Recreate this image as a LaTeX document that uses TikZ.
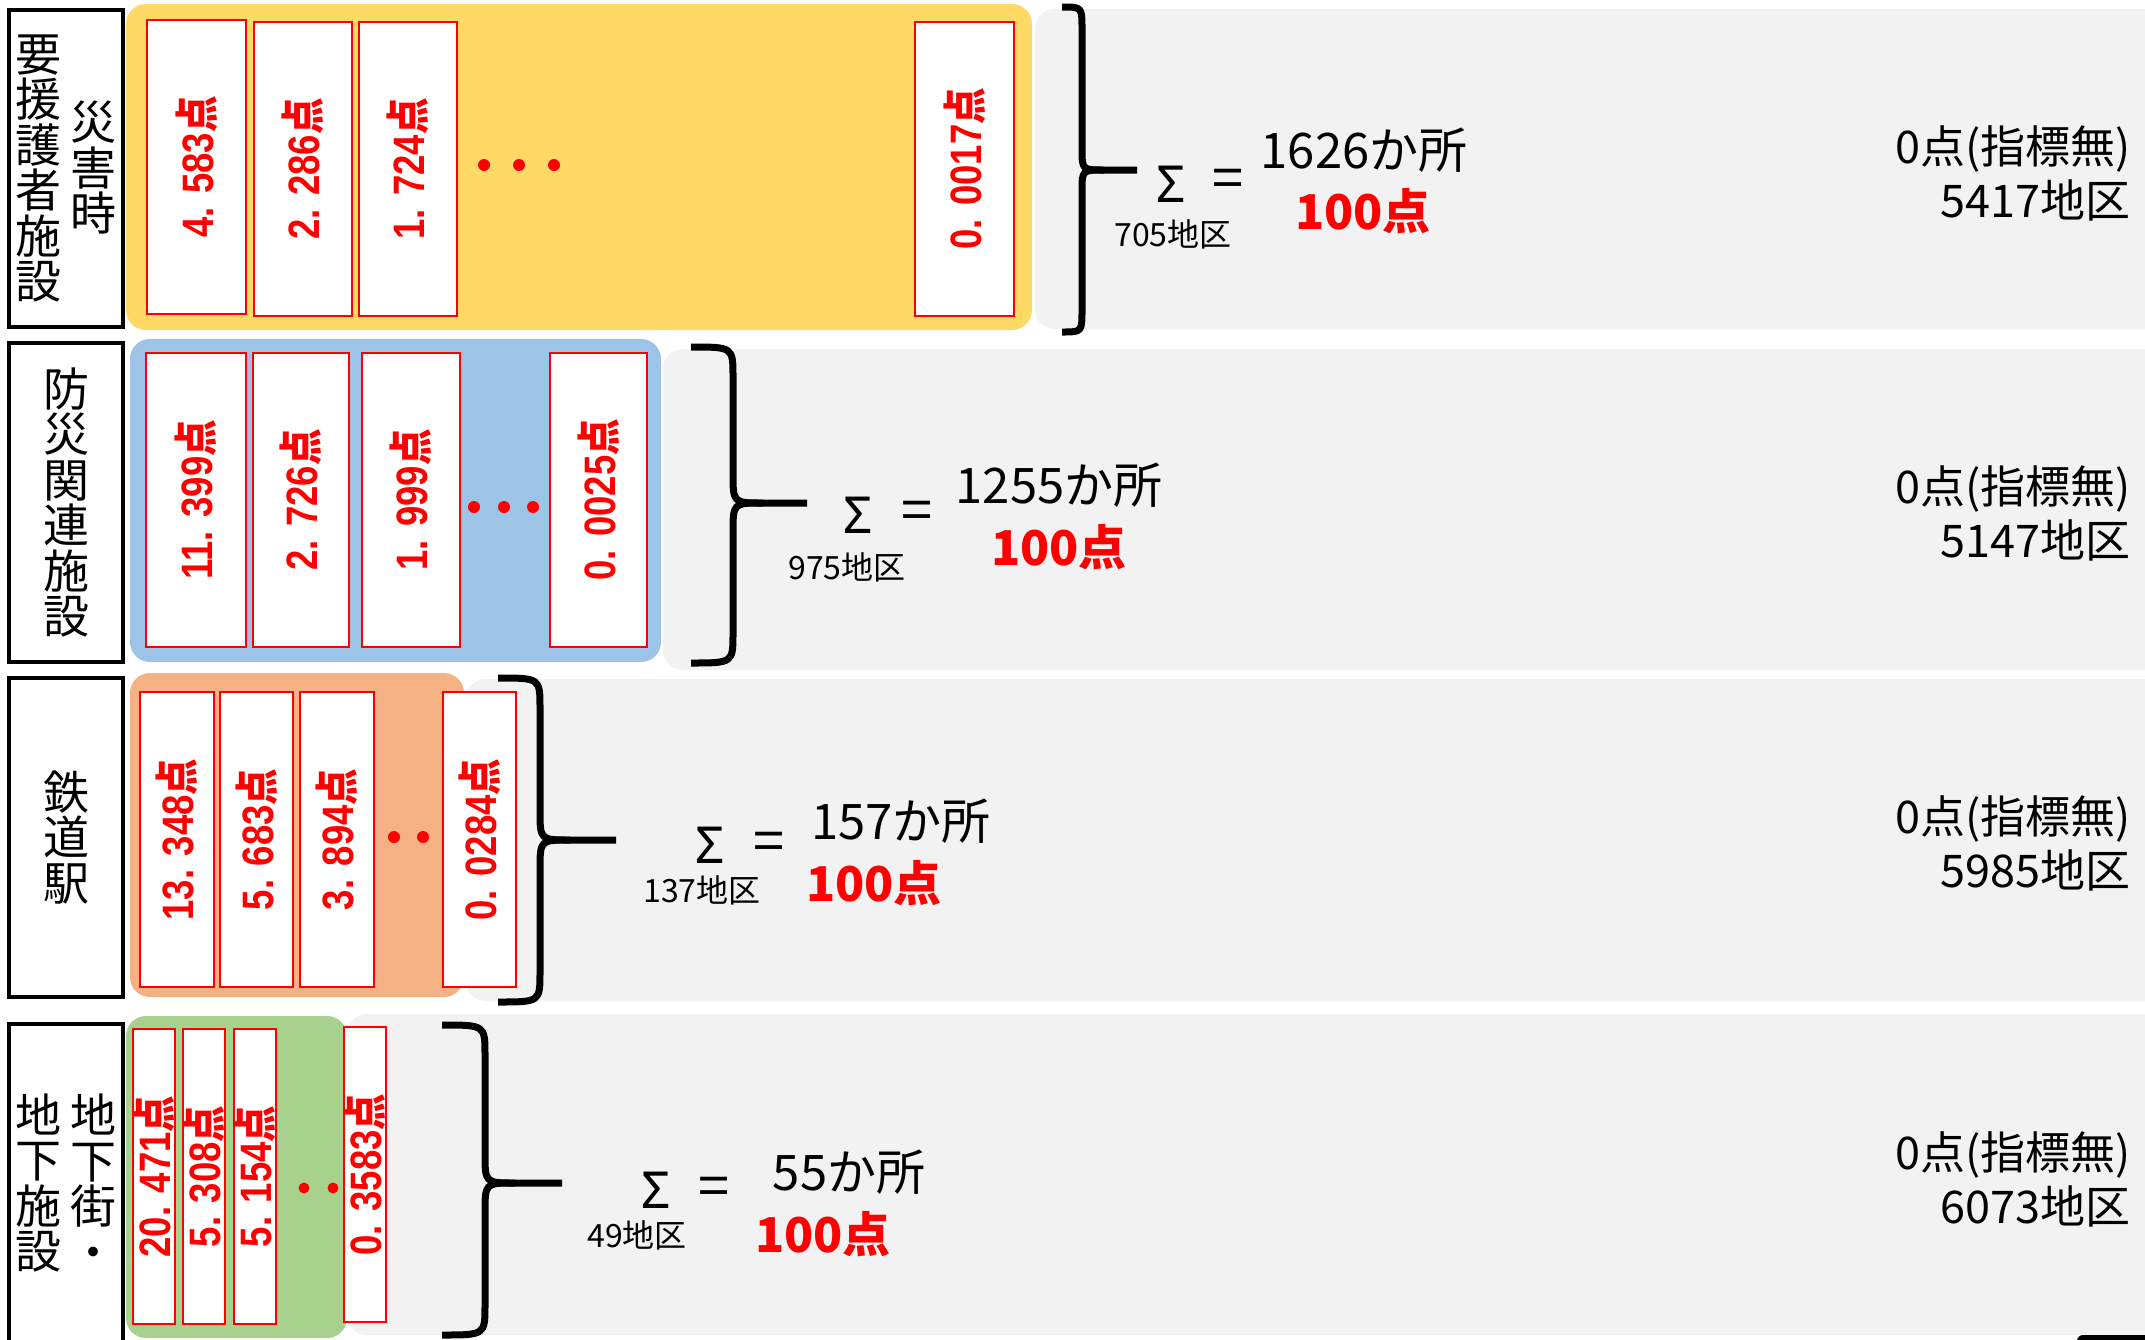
\documentclass[tikz,border=0pt]{standalone}
\usepackage{fontspec}
\usepackage{graphicx}
\newfontfamily\jp{Noto Sans CJK JP}
\newfontfamily\lsans{Liberation Sans}
\newfontfamily\nsans{Noto Sans}
\definecolor{cyel}{HTML}{FFD966}
\definecolor{cblu}{HTML}{9DC3E6}
\definecolor{cora}{HTML}{F4B183}
\definecolor{cgrn}{HTML}{A9D18E}
\definecolor{cgry}{HTML}{F2F2F2}
\definecolor{cred}{HTML}{FF0000}
\newcommand\fs[1]{\fontsize{#1}{#1}\selectfont}
\tikzset{
 boxbase/.style={anchor=north west, inner sep=0pt, outer sep=0pt},
 panel/.style={boxbase, rounded corners=20pt, draw=none},
 labelbox/.style={boxbase, draw=black, line width=4.5pt, fill=white},
 valbox/.style={boxbase, draw=cred, line width=2.5pt, fill=white},
 valtxt/.style={rotate=90, text=cred, inner sep=0pt},
 lbltxt/.style={font=\jp\fontsize{46}{45.5}\selectfont, align=center, inner sep=0pt},
 sig/.style={font=\nsans\fs{51}, inner sep=0pt},
 eqs/.style={font=\jp\fs{56}, inner sep=0pt},
 cnt/.style={font=\jp\fs{49}, inner sep=0pt},
 pts/.style={font=\jp\bfseries\fs{48}, text=cred, inner sep=0pt},
 subt/.style={font=\jp\fs{32}, inner sep=0pt},
 rtxt/.style={font=\jp\fontsize{45}{54}\selectfont, align=right, inner sep=0pt, anchor=east},
 bracestyle/.style={draw=black, line width=7pt, line join=round},
 rdot/.style={circle, fill=cred, inner sep=0pt, minimum size=12pt},
}
\newcommand\rect[6]{\node[#1, minimum width={#5-#3}, minimum height={#6-#4}] (#2) at (#3,#4) {};}
\newcommand\rv[1]{\scalebox{0.83}[1]{\fs{44}\lsans\bfseries #1\jp\bfseries 点}}
\newcommand\mybrace[7]{%
 \draw[bracestyle] (#1,#4) .. controls (#2,#4) .. (#2,#4+#7) -- (#2,#5-#7) .. controls (#2,#5) .. (#2+#7,#5) -- (#3,#5);
 \draw[bracestyle] (#2+#7,#5) .. controls (#2,#5) .. (#2,#5+#7) -- (#2,#6-#7) .. controls (#2,#6) .. (#1,#6);
}
\begin{document}
\begin{tikzpicture}[x=1pt,y=-1pt]
\useasboundingbox (0,0) rectangle (2145,1339);
\fill[white] (0,0) rectangle (2145,1339);
% gray panels
\rect{panel, fill=cgry}{g1}{1035}{9}{2175}{329}
\rect{panel, fill=cgry}{g2}{663}{349}{2175}{670}
\rect{panel, fill=cgry}{g3}{466}{679}{2175}{1001}
\rect{panel, fill=cgry}{g4}{347}{1014}{2175}{1335}
\node[boxbase, fill=black, rounded corners=6pt, minimum width=100pt, minimum height=30pt] (blk) at (2077,1335) {};
% colored panels
\rect{panel, fill=cyel}{p1}{126}{4}{1032}{330}
\rect{panel, fill=cblu}{p2}{130}{339}{661}{662}
\rect{panel, fill=cora}{p3}{130}{673}{464}{997}
\rect{panel, fill=cgrn}{p4}{126}{1016}{347}{1338}
% label boxes
\rect{labelbox}{L1}{9}{10}{123}{327}
\rect{labelbox}{L2}{9}{343}{123}{662}
\rect{labelbox}{L3}{9}{678}{123}{997}
\rect{labelbox}{L4}{9}{1024}{123}{1350}
\node[lbltxt] (l1a) at (93,167.5) {災\\害\\時};
\node[lbltxt] (l1b) at (38.5,168.5) {要\\援\\護\\者\\施\\設};
\node[lbltxt] (l2) at (66,502.5) {防\\災\\関\\連\\施\\設};
\node[lbltxt] (l3) at (66,837.5) {鉄\\道\\駅};
\node[lbltxt] (l4a) at (93,1181.5) {地\\下\\街\\・};
\node[lbltxt] (l4b) at (38.5,1183) {地\\下\\施\\設};
% row 1 value boxes
\rect{valbox}{b11}{147}{20}{246}{314}
\rect{valbox}{b12}{254}{22}{352}{316}
\rect{valbox}{b13}{359}{22}{457}{316}
\rect{valbox}{b14}{915}{22}{1014}{316}
\node[valtxt] (t11) at (b11.center) {\rv{4. 583}};
\node[valtxt] (t12) at (b12.center) {\rv{2. 286}};
\node[valtxt] (t13) at (b13.center) {\rv{1. 724}};
\node[valtxt] (t14) at (b14.center) {\rv{0. 0017}};
\node[rdot] (d11) at (484,165) {};
\node[rdot] (d12) at (519,165) {};
\node[rdot] (d13) at (554,165) {};
% row 2
\rect{valbox}{b21}{146}{353}{246}{647}
\rect{valbox}{b22}{253}{353}{349}{647}
\rect{valbox}{b23}{362}{353}{460}{647}
\rect{valbox}{b24}{550}{353}{647}{647}
\node[valtxt] (t21) at (b21.center) {\rv{11. 399}};
\node[valtxt] (t22) at (b22.center) {\rv{2. 726}};
\node[valtxt] (t23) at (b23.center) {\rv{1. 999}};
\node[valtxt] (t24) at (b24.center) {\rv{0. 0025}};
\node[rdot] (d21) at (474,507) {};
\node[rdot] (d22) at (504,507) {};
\node[rdot] (d23) at (533,507) {};
% row 3
\rect{valbox}{b31}{140}{692}{214}{987}
\rect{valbox}{b32}{220}{692}{293}{987}
\rect{valbox}{b33}{300}{692}{374}{987}
\rect{valbox}{b34}{443}{692}{516}{987}
\node[valtxt] (t31) at (b31.center) {\rv{13. 348}};
\node[valtxt] (t32) at (b32.center) {\rv{5. 683}};
\node[valtxt] (t33) at (b33.center) {\rv{3. 894}};
\node[valtxt] (t34) at (b34.center) {\rv{0. 0284}};
\node[rdot] (d31) at (394,837) {};
\node[rdot] (d32) at (423,837) {};
% row 4
\rect{valbox}{b41}{133}{1029}{175}{1324}
\rect{valbox}{b42}{183}{1029}{225}{1324}
\rect{valbox}{b43}{234}{1029}{276}{1324}
\rect{valbox}{b44}{344}{1027}{386}{1322}
\node[valtxt] (t41) at (b41.center) {\rv{20. 471}};
\node[valtxt] (t42) at (b42.center) {\rv{5. 308}};
\node[valtxt] (t43) at (b43.center) {\rv{5. 154}};
\node[valtxt] (t44) at (b44.center) {\rv{0. 3583}};
\node[rdot, minimum size=11pt] (d41) at (304,1188) {};
\node[rdot, minimum size=11pt] (d42) at (333,1188) {};
% braces
\mybrace{1062}{1082}{1137}{7}{170}{332}{22}
\mybrace{691}{733}{807}{347}{503}{663}{30}
\mybrace{498}{540}{616}{678}{840}{1002}{30}
\mybrace{442}{485}{562}{1025}{1183}{1335}{30}
% sums row 1
\node[sig] (s1) at (1171,184) {Σ};
\node[eqs] (e1) at (1228,184) {=};
\node[subt] (k1) at (1173,234) {705地区};
\node[cnt] (c1) at (1364,150) {1626か所};
\node[pts] (q1) at (1363,211) {100点};
% row 2
\node[sig] (s2) at (858,515) {Σ};
\node[eqs] (e2) at (917,516) {=};
\node[subt] (k2) at (847,567) {975地区};
\node[cnt] (c2) at (1059,485) {1255か所};
\node[pts] (q2) at (1059,547) {100点};
% row 3
\node[sig] (s3) at (710,845) {Σ};
\node[eqs] (e3) at (769,847) {=};
\node[subt] (k3) at (702,890) {137地区};
\node[cnt] (c3) at (901,821) {157か所};
\node[pts] (q3) at (874,883) {100点};
% row 4
\node[sig] (s4) at (656,1190) {Σ};
\node[eqs] (e4) at (714,1192) {=};
\node[subt] (k4) at (637,1235) {49地区};
\node[cnt] (c4) at (849,1172) {55か所};
\node[pts] (q4) at (823,1234) {100点};
% right texts
\node[rtxt] (r1) at (2131,173) {0点(指標無)\\5417地区};
\node[rtxt] (r2) at (2131,513) {0点(指標無)\\5147地区};
\node[rtxt] (r3) at (2131,843) {0点(指標無)\\5985地区};
\node[rtxt] (r4) at (2131,1179) {0点(指標無)\\6073地区};
\end{tikzpicture}
\end{document}
